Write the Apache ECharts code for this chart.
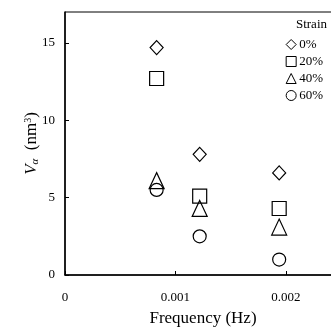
<!DOCTYPE html>
<html>
<head>
<meta charset="utf-8">
<script src="https://cdn.jsdelivr.net/npm/echarts@6/dist/echarts.min.js"></script>
<style>html,body{margin:0;padding:0;background:#fff}#c{width:331px;height:327px}</style>
</head>
<body>
<div id="c"></div>
<script>
var frequency = [0.00083, 0.00122, 0.00194];
var strain0 = [14.7, 7.8, 6.6];
var strain20 = [12.7, 5.1, 4.3];
var strain40 = [6.1, 4.3, 3.1];
var strain60 = [5.5, 2.5, 1.0];
var seriesNames = ['0%', '20%', '40%', '60%'];
var xTickValues = [0, 0.001, 0.002];
var xTickLabels = ['0', '0.001', '0.002'];
var yTickValues = [0, 5, 10, 15];
var yTickLabels = ['0', '5', '10', '15'];

var F = 'Liberation Serif, Times New Roman, serif';
function pts(vals){ return frequency.map(function(f,i){ return [f, vals[i]]; }); }
var symbols = ['diamond', 'rect', 'triangle', 'circle'];
var sizes = [[13,14], 14, [15,16], 13];
var data = [strain0, strain20, strain40, strain60];

var chart = echarts.init(document.getElementById('c'), null, {renderer:'canvas'});
chart.setOption({
  animation: false,
  backgroundColor: '#fff',
  grid: {left: 65, top: 12, right: -10, bottom: 52, containLabel: false, outerBoundsMode: 'none',
    show: true, borderColor: '#000', borderWidth: 1, backgroundColor: 'transparent'},
  legend: {
    orient: 'vertical', right: 3, top: 33, itemWidth: 10, itemHeight: 10, itemGap: 4,
    itemStyle: {borderWidth: 1},
    textStyle: {fontFamily: F, fontSize: 13, color: '#000', padding: [0,0,0,-2]},
    data: seriesNames
  },
  graphic: [{type: 'text', right: 4, top: 18, style: {text: 'Strain', font: '13px ' + F, fill: '#000'}}],
  xAxis: {
    type: 'value', min: 0, max: 0.0025, interval: 0.001,
    name: 'Frequency (Hz)', nameLocation: 'middle', nameGap: 35, nameMoveOverlap: false,
    nameTextStyle: {fontFamily: F, fontSize: 17, color: '#000'},
    axisLine: {show: true, onZero: false, lineStyle: {color: '#000', width: 1.5}},
    axisTick: {show: true, inside: true, length: 4, lineStyle: {color: '#000'}},
    axisLabel: {margin: 16, fontFamily: F, fontSize: 13, color: '#000', showMaxLabel: false,
      formatter: function(v){ var i = xTickValues.findIndex(function(t){return Math.abs(t-v)<1e-9;}); return i>=0 ? xTickLabels[i] : ''; }},
    splitLine: {show: false}
  },
  yAxis: {
    type: 'value', min: 0, max: 17, interval: 5,
    name: '{i|V}{s|α}  (nm{p|3})', nameLocation: 'middle', nameGap: 24, nameRotate: 90, nameMoveOverlap: false,
    nameTextStyle: {fontFamily: F, fontSize: 17, color: '#000',
      rich: {
        i: {fontFamily: F, fontSize: 17, fontStyle: 'italic', color: '#000'},
        s: {fontFamily: F, fontSize: 11, fontStyle: 'italic', color: '#000', verticalAlign: 'bottom', padding: [6,0,0,0]},
        p: {fontFamily: F, fontSize: 10, color: '#000', verticalAlign: 'top', padding: [0,0,8,0]}
      }},
    axisLine: {show: true, lineStyle: {color: '#000', width: 1.5}},
    axisTick: {show: true, inside: true, length: 4, lineStyle: {color: '#000'}},
    axisLabel: {margin: 10, fontFamily: F, fontSize: 13, color: '#000', showMaxLabel: false,
      formatter: function(v){ var i = yTickValues.indexOf(v); return i>=0 ? yTickLabels[i] : ''; }},
    splitLine: {show: false}
  },
  series: seriesNames.map(function(n, k){
    return {
      name: n, type: 'scatter', symbol: symbols[k], symbolSize: sizes[k],
      data: pts(data[k]),
      itemStyle: {color: 'rgba(255,255,255,0)', borderColor: '#000', borderWidth: 1.2, opacity: 1}
    };
  })
});
</script>
</body>
</html>
